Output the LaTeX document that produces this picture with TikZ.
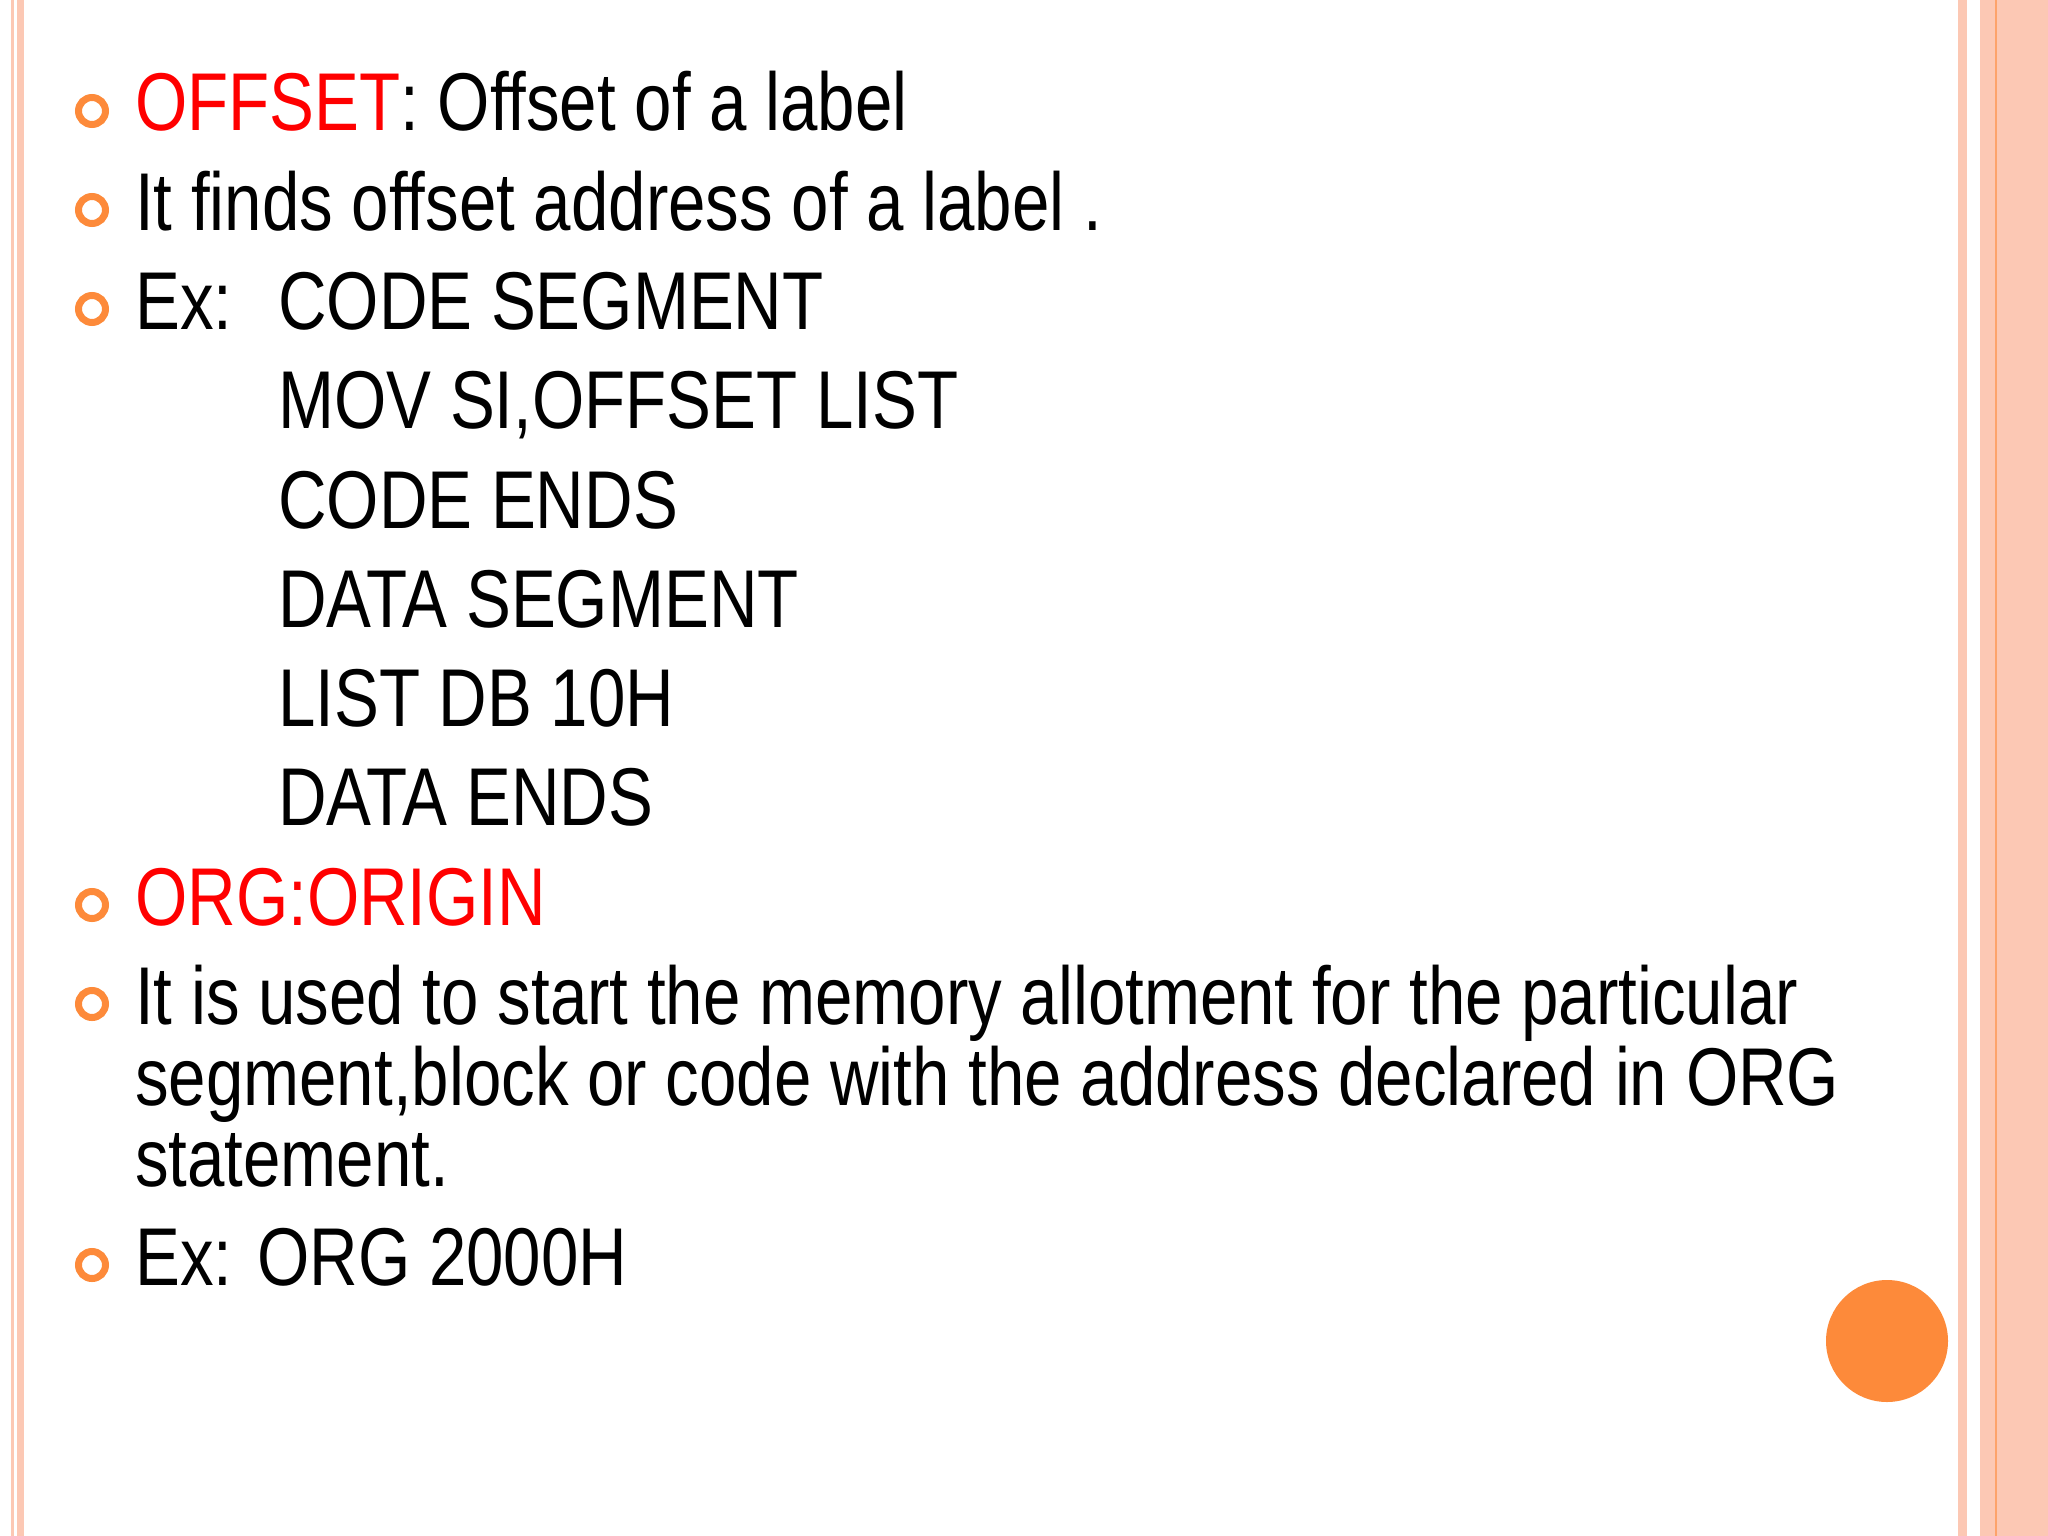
\documentclass[tikz,border=0pt]{standalone}
\usepackage{fontspec}
\setmainfont[FakeStretch=0.82]{Liberation Sans}
\definecolor{stripe}{HTML}{FCC8B4}
\definecolor{orng}{HTML}{FD8A3A}
\definecolor{redt}{HTML}{FF0000}
\begin{document}
\begin{tikzpicture}[x=1pt,y=-1pt,
  txt/.style={anchor=base west,inner sep=0,font=\fontsize{82}{96}\selectfont},
  bul/.style={circle,draw=orng,line width=7pt,minimum size=27pt,inner sep=0}]
\useasboundingbox (0,0) rectangle (2048,1536);
\fill[white] (0,0) rectangle (2048,1536);
\fill[stripe] (11,0) rectangle (14,1536);
\fill[stripe] (17,0) rectangle (24,1536);
\fill[stripe] (1958,0) rectangle (1967,1536);
\fill[stripe] (1980,0) rectangle (2048,1536);
\fill[orng!60!stripe] (1995,0) rectangle (1997,1536);
\fill[orng] (1887,1341) circle (61);
\foreach \y/\n in {131/a,230/b,329/c,925/d,1024/e,1285/f}
  \node[bul] (b\n) at (92,\y-20) {};
\node[txt] (t1) at (135,131) {\textcolor{redt}{OFFSET}: Offset of a label};
\node[txt] (t2) at (135,230) {It finds offset address of a label .};
\node[txt] (t3) at (135,329) {Ex:};
\node[txt] (c1) at (278,329) {CODE SEGMENT};
\node[txt] (c2) at (278,428) {MOV SI,OFFSET LIST};
\node[txt] (c3) at (278,528) {CODE ENDS};
\node[txt] (c4) at (278,627) {DATA SEGMENT};
\node[txt] (c5) at (278,726) {LIST DB 10H};
\node[txt] (c6) at (278,825) {DATA ENDS};
\node[txt,text=redt] (t4) at (135,925) {ORG:ORIGIN};
\node[txt] (t5) at (135,1024) {It is used to start the memory allotment for the particular};
\node[txt] (t6) at (135,1105) {segment,block or code with the address declared in ORG};
\node[txt] (t7) at (135,1186) {statement.};
\node[txt] (t8) at (135,1285) {Ex: ORG 2000H};
\end{tikzpicture}
\end{document}
